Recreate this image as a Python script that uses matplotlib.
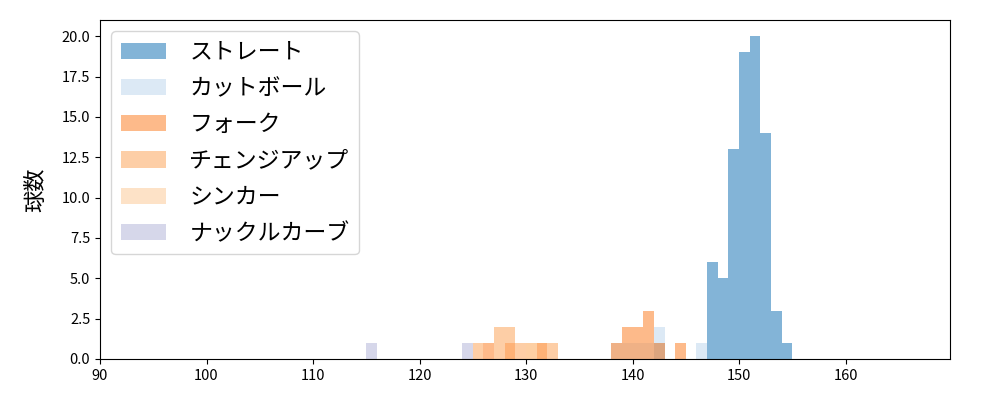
import numpy as np
import matplotlib
matplotlib.use("Agg")
import matplotlib.pyplot as plt

plt.rcParams['font.family'] = ['Noto Sans CJK JP', 'DejaVu Sans']

# 球速 (km/h) の各ビン左端と球数
pitch_names = ["ストレート", "カットボール", "フォーク", "チェンジアップ", "シンカー", "ナックルカーブ"]
colors = ["#3182bd", "#c6dbef", "#fd8d3c", "#fdae6b", "#fdd0a2", "#bcbddc"]

straight_bins = [142, 147, 148, 149, 150, 151, 152, 153, 154]
straight_counts = [1, 6, 5, 13, 19, 20, 14, 3, 1]

cut_bins = [138, 139, 140, 141, 142, 146]
cut_counts = [1, 1, 1, 1, 2, 1]

fork_bins = [126, 128, 131, 138, 139, 140, 141, 142, 144]
fork_counts = [1, 1, 1, 1, 2, 2, 3, 1, 1]

change_bins = [125, 127, 128, 129, 130, 131, 132]
change_counts = [1, 2, 2, 1, 1, 1, 1]

sinker_bins = [130]
sinker_counts = [1]

knuckle_bins = [115, 124]
knuckle_counts = [1, 1]

all_bins = [straight_bins, cut_bins, fork_bins, change_bins, sinker_bins, knuckle_bins]
all_counts = [straight_counts, cut_counts, fork_counts, change_counts, sinker_counts, knuckle_counts]

edges = np.arange(110, 160, 1)

fig, ax = plt.subplots(figsize=(10, 4), dpi=100)
fig.subplots_adjust(left=0.1, right=0.95, top=0.95, bottom=0.1025)

for name, col, b, c in zip(pitch_names, colors, all_bins, all_counts):
    centers = np.array(b) + 0.5
    ax.hist(centers, bins=edges, weights=c, color=col, alpha=0.6, label=name)

ax.set_xlim(90, 169.8)
ax.set_ylim(0, 21)
ax.tick_params(labelsize=10.5)
ax.set_ylabel("球数", fontsize=16, labelpad=10)
ax.legend(loc="upper left", fontsize=16.5, labelspacing=0.58, handletextpad=1.0)

fig.savefig("out.png")
